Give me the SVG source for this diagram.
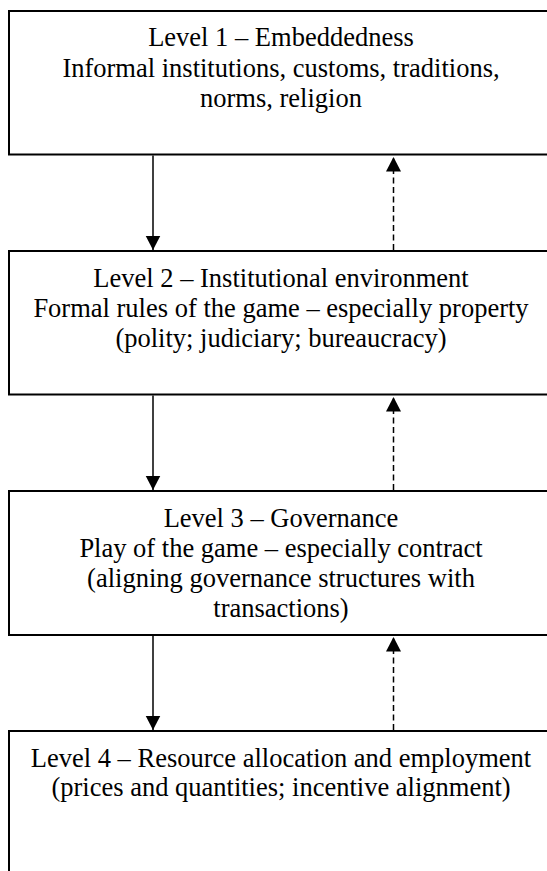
<svg xmlns="http://www.w3.org/2000/svg" width="547" height="871" viewBox="0 0 547 871">
<style>
.box{fill:#fff;stroke:#000;stroke-width:2}
.t{font-family:"Liberation Serif","Times New Roman",serif;font-size:26.5px;fill:#000;text-anchor:middle}
.solid{stroke:#000;stroke-width:1.5;fill:none}
.dash{stroke:#000;stroke-width:1.5;fill:none;stroke-dasharray:6,3.5}
</style>
<defs>
<marker id="ah" markerUnits="userSpaceOnUse" markerWidth="16" markerHeight="16" refX="14.5" refY="8" orient="auto" viewBox="0 0 16 16">
<path d="M0,0.5 L14.5,8 L0,15.5 z" fill="#000"/>
</marker>
</defs>
<rect width="547" height="871" fill="#fff"/>
<g id="level1">
<rect class="box" x="9" y="11" width="560" height="143.5"/>
<text class="t" x="281" y="46">Level 1 – Embeddedness</text>
<text class="t" x="281" y="76.5">Informal institutions, customs, traditions,</text>
<text class="t" x="281" y="107">norms, religion</text>
</g>
<g id="level2">
<rect class="box" x="9" y="251" width="560" height="143.5"/>
<text class="t" x="281" y="286.5">Level 2 – Institutional environment</text>
<text class="t" x="281" y="316.5">Formal rules of the game – especially property</text>
<text class="t" x="281" y="346.5">(polity; judiciary; bureaucracy)</text>
</g>
<g id="level3">
<rect class="box" x="9" y="491" width="560" height="144"/>
<text class="t" x="281" y="526.5">Level 3 – Governance</text>
<text class="t" x="281" y="556.5">Play of the game – especially contract</text>
<text class="t" x="281" y="586.5">(aligning governance structures with</text>
<text class="t" x="281" y="617">transactions)</text>
</g>
<g id="level4">
<rect class="box" x="9" y="731" width="560" height="160"/>
<text class="t" x="281" y="766.5">Level 4 – Resource allocation and employment</text>
<text class="t" x="281" y="796">(prices and quantities; incentive alignment)</text>
</g>
<g id="connectors">
<line class="solid" x1="153" y1="155.5" x2="153" y2="250" marker-end="url(#ah)"/>
<line class="dash" x1="393.5" y1="250" x2="393.5" y2="157" marker-end="url(#ah)"/>
<line class="solid" x1="153" y1="395.5" x2="153" y2="490" marker-end="url(#ah)"/>
<line class="dash" x1="393.5" y1="490" x2="393.5" y2="397" marker-end="url(#ah)"/>
<line class="solid" x1="153" y1="636" x2="153" y2="730" marker-end="url(#ah)"/>
<line class="dash" x1="393.5" y1="730" x2="393.5" y2="637" marker-end="url(#ah)"/>
</g>
</svg>
